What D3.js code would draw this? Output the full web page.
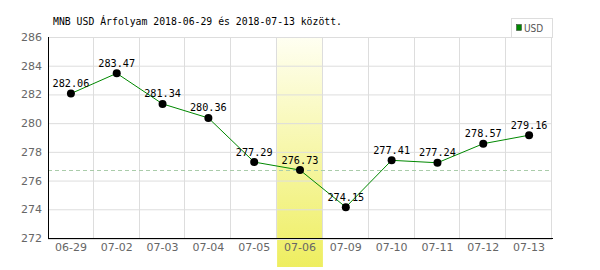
<!DOCTYPE html>
<html>
<head>
<meta charset="utf-8">
<script src="https://cdn.jsdelivr.net/npm/d3@7"></script>
<style>
    body { margin: 0; background: #fff; }
    .axis text { font-family: "DejaVu Sans", Verdana, sans-serif; font-size: 11px; fill: #666; }
    .lbl { font-family: "DejaVu Sans Mono", monospace; font-size: 10.2px; fill: #000; }
</style>
</head>
<body>
<script>
(function(){

    //chart data
    var dates = ["06-29", "07-02", "07-03", "07-04", "07-05", "07-06", "07-09", "07-10", "07-11", "07-12", "07-13"];
    var rates = [282.06, 283.47, 281.34, 280.36, 277.29, 276.73, 274.15, 277.41, 277.24, 278.57, 279.16];
    var yTicks = [272, 274, 276, 278, 280, 282, 284, 286];
    var highlightDate = "07-06";
    var refValue = 276.73;
    var title = "MNB USD Árfolyam 2018-06-29 és 2018-07-13 között.";
    var seriesName = "USD";

    var width = 600, height = 270,
        left = 48, right = 552, top = 37, bottom = 238;

    var svg = d3.select("body").append("svg")
        .attr("width", width)
        .attr("height", height);

    var x = d3.scaleBand().domain(dates).range([left, right]);
    var y = d3.scaleLinear().domain([272, 286]).range([bottom, top]);

    //yellow gradient for the highlighted day
    var grad = svg.append("defs").append("linearGradient")
        .attr("id", "hl").attr("x1", 0).attr("y1", 0).attr("x2", 0).attr("y2", 1);
    grad.append("stop").attr("offset", "0%").attr("stop-color", "#fffff2");
    grad.append("stop").attr("offset", "100%").attr("stop-color", "#eeee60");

    svg.append("rect")
        .attr("x", x(highlightDate))
        .attr("y", top)
        .attr("width", x.bandwidth())
        .attr("height", 267 - top)
        .attr("fill", "url(#hl)");

    //grid
    svg.selectAll(".hgrid")
        .data(yTicks)
        .enter().append("line")
        .attr("x1", left).attr("x2", right)
        .attr("y1", function(d){ return y(d) + 0.5; })
        .attr("y2", function(d){ return y(d) + 0.5; })
        .attr("stroke", "#ddd");

    svg.selectAll(".vgrid")
        .data(dates)
        .enter().append("line")
        .attr("x1", function(d){ return Math.round(x(d) + x.bandwidth()) - 0.5; })
        .attr("x2", function(d){ return Math.round(x(d) + x.bandwidth()) - 0.5; })
        .attr("y1", top).attr("y2", bottom)
        .attr("stroke", "#ddd");

    //reference dashed line
    svg.append("line")
        .attr("x1", left).attr("x2", right)
        .attr("y1", Math.round(y(refValue)) + 0.5)
        .attr("y2", Math.round(y(refValue)) + 0.5)
        .attr("stroke", "#aca")
        .attr("stroke-dasharray", "4,3");

    //axes
    var yAxis = svg.append("g")
        .attr("class", "axis")
        .attr("transform", "translate(" + left + ",0)")
        .call(d3.axisLeft(y).tickValues(yTicks).tickSize(0).tickPadding(6));
    yAxis.select(".domain").remove();

    var xAxis = svg.append("g")
        .attr("class", "axis")
        .attr("transform", "translate(0," + bottom + ")")
        .call(d3.axisBottom(x).tickSize(0).tickPadding(5));
    xAxis.select(".domain").remove();

    svg.append("line")
        .attr("x1", left).attr("x2", right)
        .attr("y1", bottom + 1.5).attr("y2", bottom + 1.5)
        .attr("stroke", "#ddd");
    svg.append("line")
        .attr("x1", left).attr("x2", right + 1)
        .attr("y1", bottom + 0.5).attr("y2", bottom + 0.5)
        .attr("stroke", "#000");
    svg.append("line")
        .attr("x1", left + 0.5).attr("x2", left + 0.5)
        .attr("y1", top).attr("y2", bottom + 1)
        .attr("stroke", "#000");

    //series line
    var line = d3.line()
        .x(function(d, i){ return x(dates[i]) + x.bandwidth() / 2; })
        .y(function(d){ return y(d); });

    svg.append("path")
        .datum(rates)
        .attr("d", line)
        .attr("fill", "none")
        .attr("stroke", "#080")
        .attr("stroke-width", 1);

    svg.selectAll(".dot")
        .data(rates)
        .enter().append("circle")
        .attr("cx", function(d, i){ return x(dates[i]) + x.bandwidth() / 2; })
        .attr("cy", function(d){ return y(d); })
        .attr("r", 4)
        .attr("fill", "#000");

    svg.selectAll(".vlbl")
        .data(rates)
        .enter().append("text")
        .attr("class", "lbl")
        .attr("x", function(d, i){ return x(dates[i]) + x.bandwidth() / 2; })
        .attr("y", function(d){ return y(d) - 6.5; })
        .attr("text-anchor", "middle")
        .text(function(d){ return d.toFixed(2); });

    //title
    svg.append("text")
        .attr("class", "lbl")
        .attr("x", 53)
        .attr("y", 25)
        .style("font-size", "9.8px")
        .text(title);

    //legend
    svg.append("rect")
        .attr("x", 511.5).attr("y", 18.5)
        .attr("width", 41).attr("height", 19)
        .attr("fill", "#fff")
        .attr("stroke", "#ddd");
    svg.append("rect")
        .attr("x", 516.5).attr("y", 24.5)
        .attr("width", 5).attr("height", 6)
        .attr("fill", "#080")
        .attr("stroke", "#333")
        .attr("stroke-width", 0.5);
    svg.append("text")
        .attr("x", 524)
        .attr("y", 32)
        .style("font-family", "'DejaVu Sans Condensed', sans-serif")
        .style("font-size", "10px")
        .attr("fill", "#555")
        .text(seriesName);

})();
</script>
</body>
</html>
